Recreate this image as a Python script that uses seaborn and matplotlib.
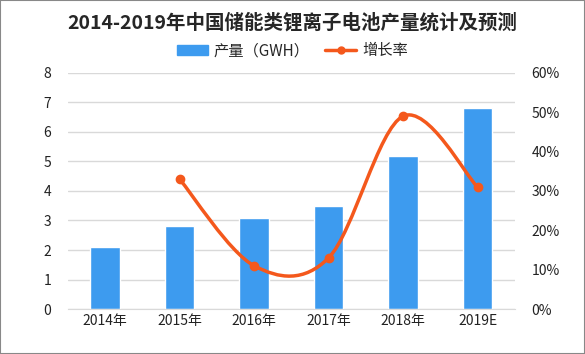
import matplotlib
matplotlib.use('Agg')
import matplotlib.pyplot as plt
import seaborn as sns
import pandas as pd
from matplotlib.path import Path
from matplotlib.patches import PathPatch
from matplotlib.ticker import PercentFormatter

years = ['2014年', '2015年', '2016年', '2017年', '2018年', '2019E']
output_gwh = [2.1, 2.8, 3.1, 3.5, 5.2, 6.8]
growth_years = ['2015年', '2016年', '2017年', '2018年', '2019E']
growth_pct = [33, 11, 13, 49, 31]

sns.set_style('white')
plt.rcParams['font.family'] = ['Noto Sans CJK SC', 'DejaVu Sans']

bar_color = '#3d9bef'
line_color = '#f4581c'

df = pd.DataFrame({'year': years, 'output': output_gwh})

fig = plt.figure(figsize=(5.85, 3.54), dpi=100)
ax = fig.add_axes([0.116, 0.127, 0.764, 0.667])
sns.barplot(data=df, x='year', y='output', color=bar_color, width=0.4,
            saturation=1, ax=ax)
ax.set_ylim(0, 8)
ax.set_xlim(-0.5, 5.5)
ax.set_yticks(range(0, 9))
ax.yaxis.grid(True, color='#d9d9d9', lw=1)
ax.set_axisbelow(True)
ax.set_xlabel('')
ax.set_ylabel('')
for s in ['top', 'right', 'left']:
    ax.spines[s].set_visible(False)
ax.spines['bottom'].set_color('#d9d9d9')
ax.tick_params(axis='both', length=0, labelsize=10, colors='#222222')
ax.tick_params(axis='y', pad=12)

ax2 = ax.twinx()
ax2.set_ylim(0, 60)
ax2.set_yticks(range(0, 61, 10))
ax2.yaxis.set_major_formatter(PercentFormatter(decimals=0))
for s in ax2.spines.values():
    s.set_visible(False)
ax2.tick_params(axis='y', length=0, labelsize=10, colors='#222222', pad=12)

# smooth curve (Catmull-Rom as cubic Bezier) through the growth points
xs = [years.index(y) for y in growth_years]
pts = list(zip(xs, growth_pct))
verts = [pts[0]]
codes = [Path.MOVETO]
n = len(pts)
for i in range(n - 1):
    p0 = pts[i - 1] if i > 0 else pts[i]
    p1, p2 = pts[i], pts[i + 1]
    p3 = pts[i + 2] if i + 2 < n else pts[i + 1]
    c1 = (p1[0] + (p2[0] - p0[0]) / 6, p1[1] + (p2[1] - p0[1]) / 6)
    c2 = (p2[0] - (p3[0] - p1[0]) / 6, p2[1] - (p3[1] - p1[1]) / 6)
    verts += [c1, c2, p2]
    codes += [Path.CURVE4] * 3
ax2.add_patch(PathPatch(Path(verts, codes), fill=False, ec=line_color, lw=2.5,
                        capstyle='round'))
ax2.plot(xs, growth_pct, ls='none', marker='o', ms=6, color=line_color)
ax2.set_xlim(-0.5, 5.5)

h1 = plt.Rectangle((0, 0), 1, 1, color=bar_color)
h2 = plt.Line2D([], [], color=line_color, lw=2.5, marker='o', ms=5)
fig.legend([h1, h2], ['产量（GWH）', '增长率'], loc='center', ncol=2,
           bbox_to_anchor=(0.5, 0.857), frameon=False, fontsize=11,
           handlelength=2.0, handleheight=0.6, handletextpad=0.4,
           columnspacing=1.0)

fig.text(0.5, 0.937, '2014-2019年中国储能类锂离子电池产量统计及预测',
         ha='center', va='center', fontsize=14, fontweight='bold')

fig.patches.append(plt.Rectangle((0, 0), 1, 1, transform=fig.transFigure,
                                 fill=False, ec='#888888', lw=1.5))

fig.savefig('out.png', dpi=100)
